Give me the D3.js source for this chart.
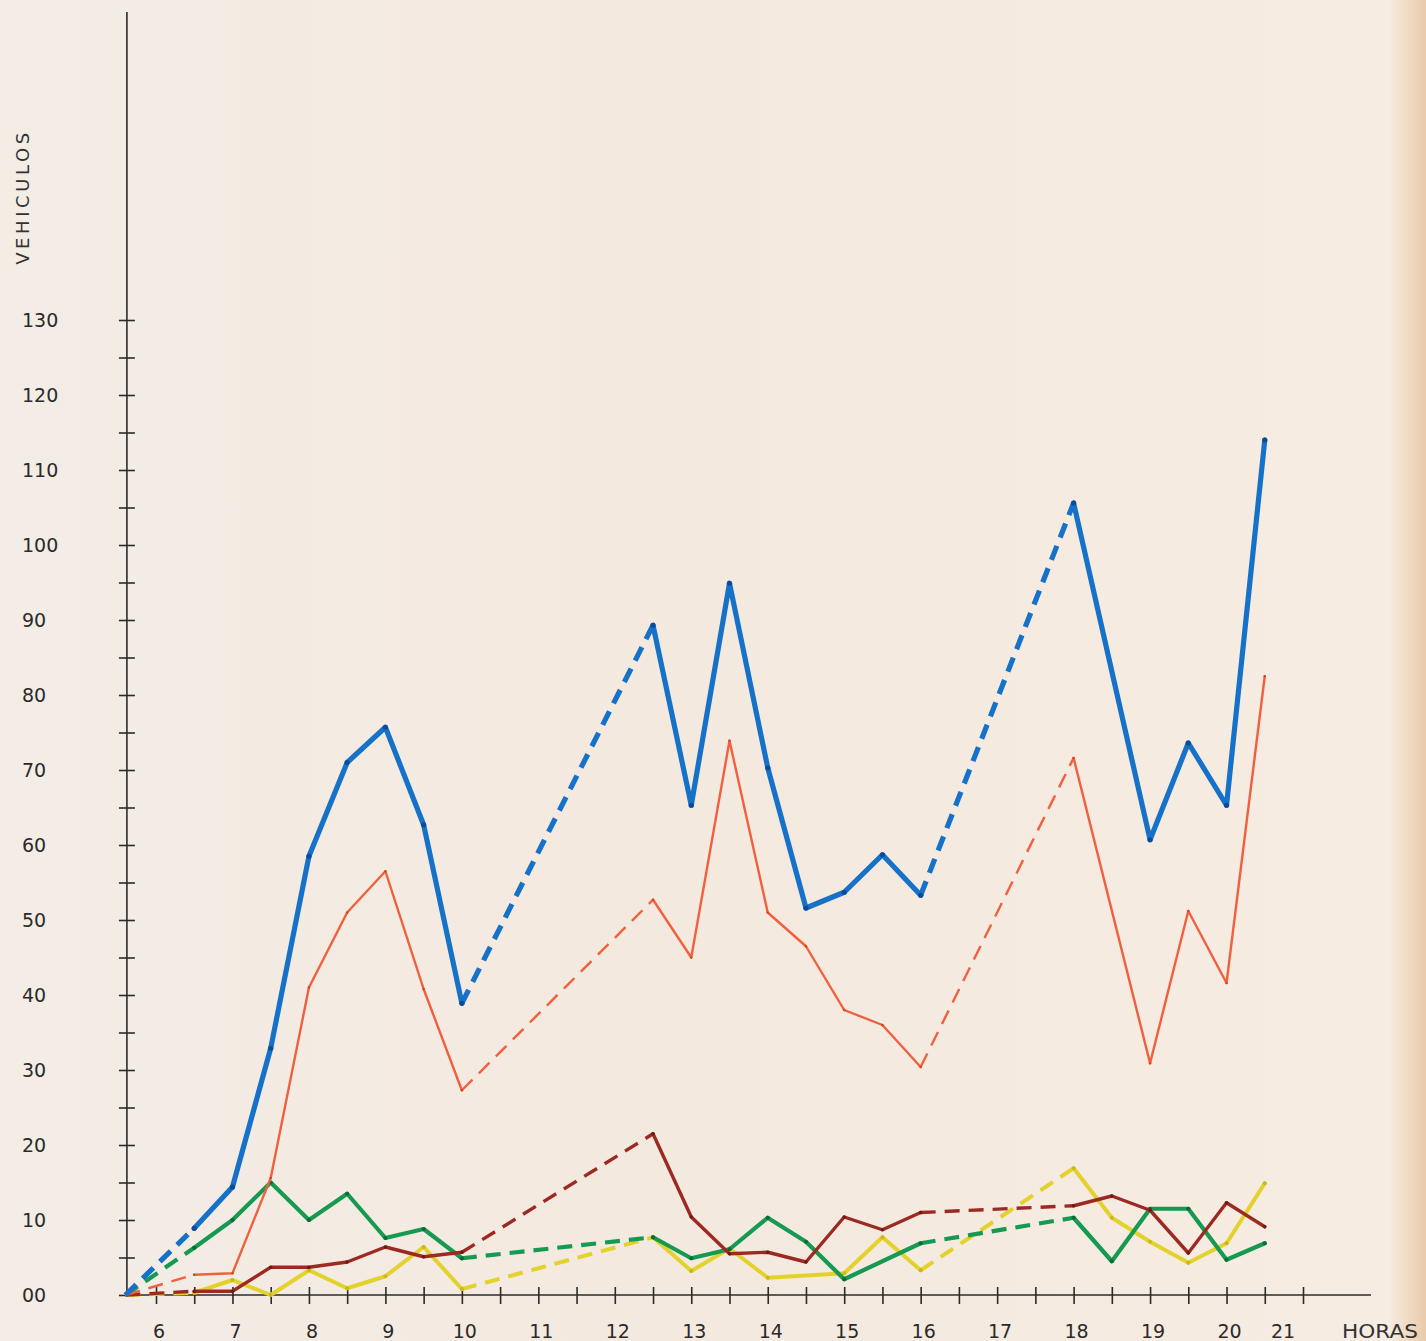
<!DOCTYPE html>
<html>
<head>
<meta charset="utf-8">
<script src="https://cdn.jsdelivr.net/npm/d3@7/dist/d3.min.js"></script>
<style>
  html, body { margin: 0; padding: 0; background: #f4ebe1; }
  svg { display: block; }
</style>
</head>
<body>
<svg id="chart" width="1426" height="1341"></svg>
<script>
// ---- Data ----
const hours = [5.6, 6.5, 7, 7.5, 8, 8.5, 9, 9.5, 10, 12.5, 13, 13.5, 14, 14.5, 15, 15.5, 16, 18, 18.5, 19, 19.5, 20, 20.5];
const blueValues   = [0, 8.9, 14.4, 32.9, 58.5, 71, 75.7, 62.7, 38.9, 89.3, 65.3, 94.9, 70.3, 51.6, 53.7, 58.7, 53.3, 105.6, null, 60.7, 73.6, 65.3, 114];
const redValues    = [0, 2.7, 2.9, 15.6, 41, 51, 56.5, 40.8, 27.3, 52.7, 45, 73.9, 51, 46.5, 38, 36, 30.4, 71.6, null, 30.9, 51.2, 41.6, 82.5];
const greenValues  = [0, 6.3, 10, 15, 10, 13.5, 7.6, 8.8, 4.9, 7.7, 4.9, 6.1, 10.3, 7.1, 2.1, null, 6.9, 10.3, 4.5, 11.5, 11.5, 4.7, 6.9];
const brownValues  = [0, 0.5, 0.5, 3.7, 3.7, 4.4, 6.4, 5.1, 5.7, 21.5, 10.4, 5.5, 5.7, 4.4, 10.4, 8.7, 11, 11.9, 13.2, 11.3, 5.6, 12.3, 9.1];
const yellowValues = [0, 0.3, 2, 0, 3.3, 0.9, 2.5, 6.4, 0.8, 7.7, 3.2, 6.2, 2.3, null, 2.9, 7.7, 3.3, 16.9, 10.3, 7.1, 4.3, 6.9, 14.9];
// segments starting at these hours are drawn dashed (no observations in between)
const dashedFrom = [5.6, 10, 16];

const xTickHours = d3.range(6, 21.01, 0.5);
const xTickLabels = ["6","7","8","9","10","11","12","13","14","15","16","17","18","19","20","21"];
const yTickValues = d3.range(0, 131, 5);
const yTickLabels = ["00","10","20","30","40","50","60","70","80","90","100","110","120","130"];

const seriesList = [
  { name: "amarillo", values: yellowValues, color: "#e3d22c", width: 4,   marker: "#c9b81c" },
  { name: "verde",    values: greenValues,  color: "#169a52", width: 4.2, marker: "#0d6b38" },
  { name: "granate",  values: brownValues,  color: "#9c2a22", width: 3.4, marker: "#6e1812" },
  { name: "rojo",     values: redValues,    color: "#f0603e", width: 2.4, marker: "#d8401e" },
  { name: "azul",     values: blueValues,   color: "#1572c8", width: 5.2, marker: "#0c4a9a" }
];

// ---- Layout ----
const svg = d3.select("#chart");
const W = 1426, H = 1341;

const x = d3.scaleLinear().domain([6, 21]).range([156, 1303]);
const y = d3.scaleLinear().domain([0, 130]).range([1295, 320]);
const x0 = x(5.6) + 1.5;

// paper background
const defs = svg.append("defs");
const bg = defs.append("linearGradient").attr("id", "paper").attr("x1", 0).attr("x2", 1).attr("y1", 0).attr("y2", 0);
bg.append("stop").attr("offset", "0%").attr("stop-color", "#f3ede6");
bg.append("stop").attr("offset", "45%").attr("stop-color", "#f4e9df");
bg.append("stop").attr("offset", "97.4%").attr("stop-color", "#f7ece1");
bg.append("stop").attr("offset", "98.6%").attr("stop-color", "#f1dcc6");
bg.append("stop").attr("offset", "100%").attr("stop-color", "#e9caa9");
svg.append("rect").attr("width", W).attr("height", H).attr("fill", "url(#paper)");

const axisColor = "#2b2b2b";
const fontFam = "'DejaVu Sans', 'Open Sans', sans-serif";

// ---- Y axis ----
svg.append("line")
  .attr("x1", x0).attr("x2", x0).attr("y1", 12).attr("y2", y(0))
  .attr("stroke", axisColor).attr("stroke-width", 1.6);

const yAxis = d3.axisLeft(y).tickValues(yTickValues).tickSize(8).tickFormat("");
const gy = svg.append("g").attr("transform", `translate(${x0},0)`).call(yAxis);
gy.select(".domain").remove();
gy.selectAll(".tick line").attr("x1", -8).attr("x2", 8).attr("stroke", axisColor).attr("stroke-width", 1.6);

svg.append("g").selectAll("text")
  .data(yTickLabels)
  .join("text")
  .attr("x", 22)
  .attr("y", (d, i) => y(i * 10) + 7)
  .attr("font-family", fontFam)
  .attr("font-size", 19)
  .attr("fill", "#2a2a2a")
  .text(d => d);

svg.append("text")
  .attr("transform", `translate(29,197) rotate(-90)`)
  .attr("text-anchor", "middle")
  .attr("font-family", fontFam)
  .attr("font-size", 18)
  .attr("letter-spacing", 3.6)
  .attr("fill", "#333")
  .text("VEHICULOS");

// ---- X axis ----
svg.append("line")
  .attr("x1", x0).attr("x2", 1371).attr("y1", y(0)).attr("y2", y(0))
  .attr("stroke", axisColor).attr("stroke-width", 1.6);

const xAxis = d3.axisBottom(x).tickValues(xTickHours).tickSize(8).tickFormat("");
const gx = svg.append("g").attr("transform", `translate(0,${y(0)})`).call(xAxis);
gx.select(".domain").remove();
gx.selectAll(".tick line").attr("y1", -8).attr("y2", 9).attr("stroke", axisColor).attr("stroke-width", 1.6);

svg.append("g").selectAll("text")
  .data(xTickLabels)
  .join("text")
  .attr("x", (d, i) => x(6 + i) + (d === "21" ? -20 : 3))
  .attr("y", 1338)
  .attr("text-anchor", "middle")
  .attr("font-family", fontFam)
  .attr("font-size", 19)
  .attr("fill", "#2a2a2a")
  .text(d => d);

svg.append("text")
  .attr("x", 1342).attr("y", 1338)
  .attr("font-family", fontFam)
  .attr("font-size", 19)
  .attr("textLength", 76)
  .attr("lengthAdjust", "spacingAndGlyphs")
  .attr("fill", "#333")
  .text("HORAS");

// ---- Series ----
const line = d3.line().x(d => x(d.h)).y(d => y(d.v));

seriesList.forEach(s => {
  const pts = hours.map((h, i) => ({ h, v: s.values[i] })).filter(d => d.v !== null);
  // group into runs of solid / dashed segments
  const runs = [];
  for (let i = 0; i < pts.length - 1; i++) {
    const dashed = dashedFrom.includes(pts[i].h);
    const last = runs[runs.length - 1];
    if (last && last.dashed === dashed) last.pts.push(pts[i + 1]);
    else runs.push({ dashed, pts: [pts[i], pts[i + 1]] });
  }
  const g = svg.append("g").attr("class", "series-" + s.name);
  g.selectAll("path")
    .data(runs)
    .join("path")
    .attr("d", r => line(r.pts))
    .attr("fill", "none")
    .attr("stroke", s.color)
    .attr("stroke-width", s.width)
    .attr("stroke-linejoin", "round")
    .attr("stroke-linecap", r => r.dashed ? "butt" : "round")
    .attr("stroke-dasharray", r => r.dashed ? "15,9" : null);
  g.selectAll("circle")
    .data(pts.slice(1))
    .join("circle")
    .attr("cx", d => x(d.h))
    .attr("cy", d => y(d.v))
    .attr("r", s.width * 0.5)
    .attr("fill", s.marker);
});
</script>
</body>
</html>
